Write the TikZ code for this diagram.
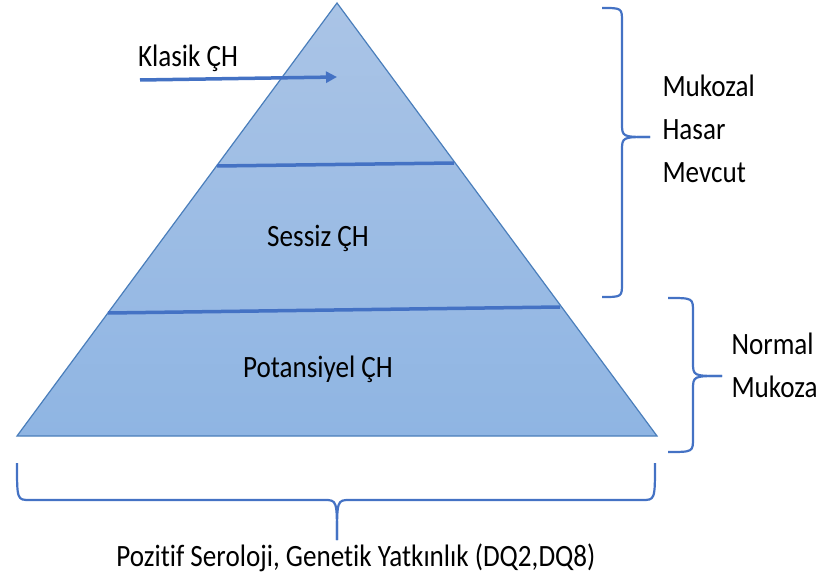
\documentclass[tikz,border=0pt]{standalone}
\usepackage{fontspec}
\setmainfont[FakeStretch=0.875,Ligatures=NoCommon]{Carlito}
\usetikzlibrary{arrows.meta}
\definecolor{pyrtop}{HTML}{AAC4E6}
\definecolor{pyrbot}{HTML}{8FB5E3}
\definecolor{pyredge}{HTML}{4A7EBB}
\definecolor{layline}{HTML}{4472C4}

\begin{document}
\begin{tikzpicture}[x=1pt,y=-1pt,
        lbl/.style={anchor=base,font=\fontsize{31}{42}\selectfont},
        lay/.style={layline,line width=3.5pt},
        brc/.style={layline,line width=2.2pt}]

            %\draw [help lines] (0,0) grid (825,580);
            \useasboundingbox (0,0) rectangle (825,580);

            \path   (337,3)   coordinate (top)
                    (17,436)  coordinate (bl)
                    (657,436) coordinate (br)
                    (217,166) coordinate (l1a)
                    (454,163) coordinate (l1b)
                    (108,313) coordinate (l2a)
                    (560,307) coordinate (l2b)
                    (140,80)  coordinate (arra)
                    (337,77)  coordinate (arrb);

            \shadedraw[top color=pyrtop,bottom color=pyrbot,draw=pyredge,line width=1.2pt]
                    (top) -- (br) -- (bl) -- cycle;

            \draw[lay] (l1a) -- (l1b);
            \draw[lay] (l2a) -- (l2b);
            \draw[lay,-{Triangle[length=11pt,width=11pt]}] (arra) -- (arrb);

            \path   (188,67)  node (klasik) [lbl] {Klasik ÇH}
                    (318,247) node (sessiz) [lbl] {Sessiz ÇH}
                    (318,377) node (potans) [lbl] {Potansiyel ÇH}
                    (659,97)  node (mukozal) [lbl,anchor=base west] {Mukozal}
                    (659,140) node (hasar) [lbl,anchor=base west] {Hasar}
                    (659,183) node (mevcut) [lbl,anchor=base west] {Mevcut}
                    (728,354) node (normal) [lbl,anchor=base west] {Normal}
                    (728,397) node (mukoza) [lbl,anchor=base west] {Mukoza}
                    (356,566) node (pozitif) [lbl] {Pozitif Seroloji, Genetik Yatkınlık (DQ2,DQ8)};

            % upper right brace
            \draw[brc] (602,8) .. controls (622,8) .. (622,22) -- (622,123)
                    .. controls (622,137) .. (650,137);
            \draw[brc] (650,137) .. controls (622,137) .. (622,151) -- (622,283)
                    .. controls (622,297) .. (602,297);

            % lower right brace
            \draw[brc] (668,298) .. controls (693,298) .. (693,312) -- (693,362)
                    .. controls (693,376) .. (722,376);
            \draw[brc] (722,376) .. controls (693,376) .. (693,390) -- (693,438)
                    .. controls (693,452) .. (668,452);

            % bottom brace
            \draw[brc] (17,463) .. controls (17,500) .. (30,500) -- (324,500)
                    .. controls (337,500) .. (337,540);
            \draw[brc] (337,540) .. controls (337,500) .. (350,500) -- (642,500)
                    .. controls (655,500) .. (655,463);

        \end{tikzpicture}
\end{document}
